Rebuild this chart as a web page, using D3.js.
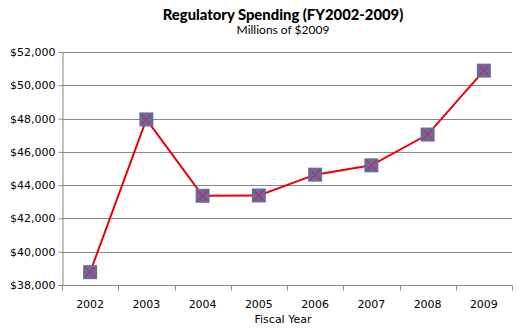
<!DOCTYPE html>
<html>
<head>
<meta charset="utf-8">
<script src="https://cdn.jsdelivr.net/npm/d3@7"></script>
<style>
  html, body { margin: 0; padding: 0; background: #fff; }
  svg { display: block; }
</style>
</head>
<body>
<svg id="chart" width="522" height="333"></svg>
<script>
// Regulatory spending by fiscal year, millions of 2009 dollars
const years = ["2002", "2003", "2004", "2005", "2006", "2007", "2008", "2009"];
const spending = [38770, 47950, 43360, 43380, 44630, 45190, 47040, 50880];
const yTicks = [38000, 40000, 42000, 44000, 46000, 48000, 50000, 52000];

const svg = d3.select("#chart");
const margin = { top: 52, right: 10, bottom: 48, left: 62 };
const W = 522, H = 333;
const innerW = W - margin.left - margin.right;
const innerH = H - margin.top - margin.bottom;

const x = d3.scaleBand().domain(years).range([margin.left, margin.left + innerW]);
const y = d3.scaleLinear().domain([38000, 52000]).range([margin.top + innerH, margin.top]);

const fmt = v => "$" + d3.format(",")(v);
const gridColor = "#888";

// horizontal gridlines
svg.append("g").selectAll("line").data(yTicks.slice(1)).join("line")
  .attr("x1", margin.left).attr("x2", margin.left + innerW)
  .attr("y1", d => Math.round(y(d)) + 0.5).attr("y2", d => Math.round(y(d)) + 0.5)
  .attr("stroke", gridColor).attr("stroke-width", 1);

// y axis
const yAxis = svg.append("g")
  .attr("transform", `translate(${margin.left + 0.5},0)`)
  .call(d3.axisLeft(y).tickValues(yTicks).tickFormat(fmt).tickSize(4).tickPadding(3));
yAxis.select(".domain").attr("stroke", gridColor);
yAxis.selectAll(".tick line").attr("stroke", gridColor);
yAxis.selectAll(".tick text")
  .attr("font-family", "DejaVu Sans").attr("font-size", 11).attr("fill", "#000");

// x axis with ticks at category boundaries
const xAxisY = Math.round(y(38000)) + 0.5;
const xg = svg.append("g");
xg.append("line")
  .attr("x1", margin.left).attr("x2", margin.left + innerW)
  .attr("y1", xAxisY).attr("y2", xAxisY).attr("stroke", gridColor);
const bounds = years.map(d => x(d)).concat([margin.left + innerW]);
xg.selectAll("line.tk").data(bounds).join("line").attr("class", "tk")
  .attr("x1", d => Math.round(d) + 0.5).attr("x2", d => Math.round(d) + 0.5)
  .attr("y1", xAxisY).attr("y2", xAxisY + 5).attr("stroke", gridColor);
xg.selectAll("text").data(years).join("text")
  .attr("x", d => x(d) + x.bandwidth() / 2)
  .attr("y", xAxisY + 22)
  .attr("text-anchor", "middle")
  .attr("font-family", "DejaVu Sans").attr("font-size", 11).attr("fill", "#000")
  .text(d => d);

// series line
const line = d3.line().x((d, i) => x(years[i]) + x.bandwidth() / 2).y(d => y(d));
svg.append("path").datum(spending)
  .attr("d", line).attr("fill", "none")
  .attr("stroke", "#e8000b").attr("stroke-width", 2);

// square markers with a cross
const s = 7;
const mk = svg.append("g").selectAll("g").data(spending).join("g")
  .attr("transform", (d, i) => `translate(${x(years[i]) + x.bandwidth() / 2},${y(d)})`);
mk.append("rect")
  .attr("x", -s).attr("y", -s).attr("width", 2 * s).attr("height", 2 * s)
  .attr("fill", "#6a6a9e");
mk.append("path")
  .attr("d", `M${-s + 2},${-s + 2}L${s - 2},${s - 2}M${s - 2},${-s + 2}L${-s + 2},${s - 2}`)
  .attr("stroke", "#b8305e").attr("stroke-width", 1.2);

// titles
const cx = margin.left + innerW / 2 - 4;
svg.append("text").attr("x", cx).attr("y", 20).attr("text-anchor", "middle")
  .attr("font-family", "Lato").attr("font-weight", "900").attr("font-size", 14.8)
  .text("Regulatory Spending (FY2002-2009)");
svg.append("text").attr("x", cx).attr("y", 34).attr("text-anchor", "middle")
  .attr("font-family", "Lato").attr("font-size", 12)
  .text("Millions of $2009");
svg.append("text").attr("x", cx).attr("y", 323).attr("text-anchor", "middle")
  .attr("font-family", "DejaVu Sans").attr("font-size", 11)
  .text("Fiscal Year");
</script>
</body>
</html>
